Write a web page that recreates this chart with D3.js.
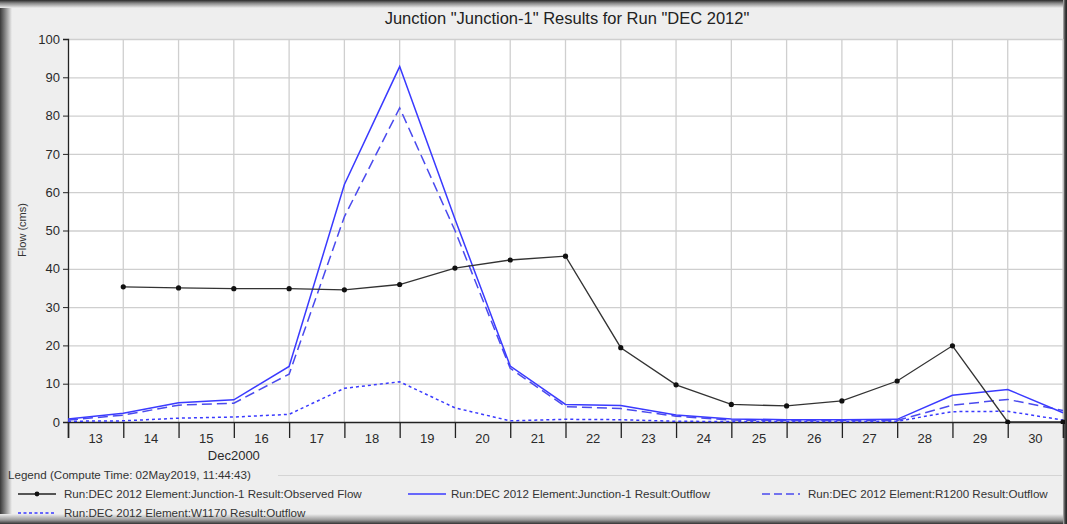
<!DOCTYPE html>
<html><head><meta charset="utf-8">
<script src="https://cdn.jsdelivr.net/npm/d3@7"></script>
<style>body{margin:0;background:#eee;} svg{display:block;}</style>
</head><body>
<svg id="c" width="1067" height="524"></svg>
<script>
const days = [13,14,15,16,17,18,19,20,21,22,23,24,25,26,27,28,29,30,31];
const tickDays = [13,14,15,16,17,18,19,20,21,22,23,24,25,26,27,28,29,30];
const observed = [null,35.3,35.0,34.8,34.8,34.5,35.9,40.2,42.3,43.3,19.4,9.7,4.6,4.2,5.5,10.7,19.9,0,0];
const outflowJ1 = [0.8,2.3,5.0,5.8,14.5,62.0,92.8,53.0,14.6,4.6,4.3,1.8,0.8,0.6,0.6,0.7,7.0,8.5,2.4];
const outflowR1200 = [0.5,1.8,4.4,4.9,12.5,53.6,82.0,50.0,14.0,4.0,3.5,1.5,0.5,0.4,0.4,0.4,4.4,5.9,3.0];
const outflowW1170 = [0.2,0.3,1.0,1.3,2.0,8.8,10.5,3.7,0.3,0.7,0.6,0.2,0.1,0.1,0.1,0.2,2.7,2.8,0.5];
const yTicks = [0,10,20,30,40,50,60,70,80,90,100];
const titleText = 'Junction "Junction-1" Results for Run "DEC 2012"';
const yLabel = 'Flow (cms)';
const xSubLabel = 'Dec2000';
const legendTitle = 'Legend (Compute Time: 02May2019, 11:44:43)';
const legendLabels = [
  'Run:DEC 2012 Element:Junction-1 Result:Observed Flow',
  'Run:DEC 2012 Element:Junction-1 Result:Outflow',
  'Run:DEC 2012 Element:R1200 Result:Outflow',
  'Run:DEC 2012 Element:W1170 Result:Outflow'
];

const svg = d3.select('#c');
const W = 1067, H = 524;
const L = 68, R = 1063, T = 39, B = 422;
const FONT = '"Liberation Sans", Arial, sans-serif';

const defs = svg.append('defs');
function grad(id, x1,y1,x2,y2, stops){
  const g = defs.append('linearGradient').attr('id',id).attr('x1',x1).attr('y1',y1).attr('x2',x2).attr('y2',y2);
  stops.forEach(s=>g.append('stop').attr('offset',s[0]).attr('stop-color',s[1]));
}
grad('gl','0','0','1','0',[[0,'#3a3a3a'],[0.35,'#777'],[1,'#eeeeee']]);
grad('gt','0','0','0','1',[[0,'#2a2a2a'],[0.4,'#888'],[1,'#eeeeee']]);
grad('gb','0','0','0','1',[[0,'#eeeeee'],[0.6,'#999'],[1,'#333']]);
grad('gr','0','0','1','0',[[0,'#bbb'],[0.5,'#444'],[1,'#222']]);

svg.append('rect').attr('width',W).attr('height',H).attr('fill','#eeeeee');
svg.append('rect').attr('x',0).attr('y',0).attr('width',12).attr('height',H).attr('fill','url(#gl)');
svg.append('rect').attr('x',0).attr('y',0).attr('width',W).attr('height',8).attr('fill','url(#gt)');
svg.append('rect').attr('x',0).attr('y',514).attr('width',W).attr('height',10).attr('fill','url(#gb)');
svg.append('rect').attr('x',1063).attr('y',0).attr('width',4).attr('height',H).attr('fill','url(#gr)');

const x = d3.scaleLinear().domain([13,31]).range([L,R]);
const y = d3.scaleLinear().domain([0,100]).range([B,T]);

svg.append('rect').attr('x',L).attr('y',T).attr('width',R-L).attr('height',B-T).attr('fill','#fff');

// grid
svg.append('g').selectAll('line').data(yTicks.filter(d=>d>0)).join('line')
  .attr('x1',L).attr('x2',R).attr('y1',d=>y(d)+0.5).attr('y2',d=>y(d)+0.5)
  .attr('stroke','#cfcfcf').attr('stroke-width',1.3);
svg.append('g').selectAll('line').data(tickDays.slice(1).concat([31])).join('line')
  .attr('x1',d=>x(d)).attr('x2',d=>x(d)).attr('y1',T).attr('y2',B)
  .attr('stroke','#cfcfcf').attr('stroke-width',1.3);

// title
svg.append('text').attr('x',567).attr('y',24).attr('text-anchor','middle')
  .attr('font-family',FONT).attr('font-size',16.5).attr('fill','#222').text(titleText);

// y axis
const yAxis = d3.axisLeft(y).tickValues(yTicks).tickSize(5).tickPadding(3);
const gy = svg.append('g').attr('transform',`translate(${L},0)`).call(yAxis);
gy.select('.domain').attr('stroke','#222').attr('stroke-width',1.3);
gy.selectAll('.tick line').attr('stroke','#222');
gy.selectAll('text').attr('font-family',FONT).attr('font-size',13).attr('fill','#2a2a2a');

// x axis
const xAxis = d3.axisBottom(x).tickValues(tickDays.concat([31])).tickSize(16).tickFormat('');
const gx = svg.append('g').attr('transform',`translate(0,${B})`).call(xAxis);
gx.select('.domain').attr('stroke','#222').attr('stroke-width',1.5);
gx.selectAll('.tick line').attr('stroke','#222').attr('stroke-width',1.3);
svg.append('g').selectAll('text').data(tickDays).join('text')
  .attr('x',d=>x(d+0.5)).attr('y',443).attr('text-anchor','middle')
  .attr('font-family',FONT).attr('font-size',13).attr('fill','#2a2a2a').text(d=>d);
svg.append('text').attr('x',x(16)).attr('y',460).attr('text-anchor','middle')
  .attr('font-family',FONT).attr('font-size',13).attr('fill','#2a2a2a').text(xSubLabel);

svg.append('text').attr('transform','translate(26,230) rotate(-90)').attr('text-anchor','middle')
  .attr('font-family',FONT).attr('font-size',11).attr('fill','#333').text(yLabel);

// series
const line = d3.line().defined(d=>d[1]!=null).x(d=>x(d[0])).y(d=>y(d[1]));
const clip = defs.append('clipPath').attr('id','pc');
clip.append('rect').attr('x',L).attr('y',T-2).attr('width',R-L+2).attr('height',B-T+4);
const pg = svg.append('g').attr('clip-path','url(#pc)');
const BLUE = '#3a3aff';
function draw(vals, color, dash, w){
  pg.append('path').datum(days.map((d,i)=>[d,vals[i]])).attr('d',line)
    .attr('fill','none').attr('stroke',color).attr('stroke-width',w)
    .attr('stroke-dasharray',dash);
}
draw(outflowW1170, BLUE, '3,3', 1.5);
draw(outflowR1200, '#4a4aee', '10,5', 1.5);
draw(outflowJ1, BLUE, null, 1.5);
draw(observed, '#333', null, 1.3);
pg.append('g').selectAll('circle').data(days.map((d,i)=>[d,observed[i]]).filter(d=>d[1]!=null)).join('circle')
  .attr('cx',d=>x(d[0])).attr('cy',d=>y(d[1])).attr('r',2.6).attr('fill','#111');

// legend
svg.append('text').attr('x',8).attr('y',479).attr('font-family',FONT).attr('font-size',11.6).attr('fill','#333').text(legendTitle);
svg.append('line').attr('x1',278).attr('x2',1062).attr('y1',475.5).attr('y2',475.5).attr('stroke','#d4d4d4');
const leg = [
  {x:18, y:494, tx:64, color:'#222', dash:null, marker:true},
  {x:408, y:494, tx:451, color:BLUE, dash:null},
  {x:762, y:494, tx:808, color:'#4a4aee', dash:'8,4'},
  {x:18, y:513, tx:64, color:BLUE, dash:'3,2.5'}
];
leg.forEach((l,i)=>{
  svg.append('line').attr('x1',l.x).attr('x2',l.x+38).attr('y1',l.y).attr('y2',l.y)
    .attr('stroke',l.color).attr('stroke-width',1.5).attr('stroke-dasharray',l.dash);
  if(l.marker) svg.append('circle').attr('cx',l.x+19).attr('cy',l.y).attr('r',2.4).attr('fill','#111');
  svg.append('text').attr('x',l.tx).attr('y',l.y+4).attr('font-family',FONT).attr('font-size',11.6)
    .attr('fill','#333').text(legendLabels[i]);
});
</script>
</body></html>
